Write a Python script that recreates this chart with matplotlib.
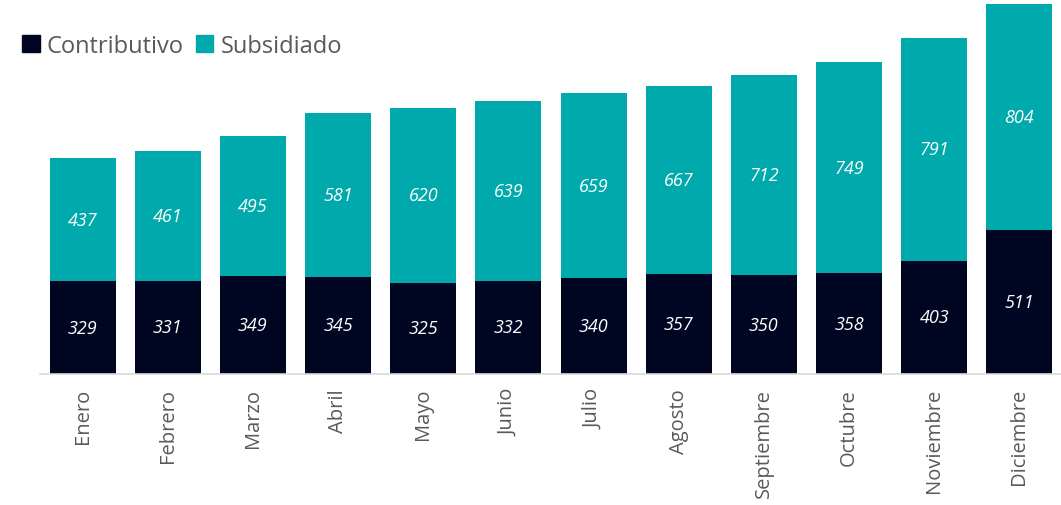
import matplotlib
matplotlib.use("Agg")
import matplotlib.pyplot as plt
from matplotlib.patches import Patch

meses = ["Enero", "Febrero", "Marzo", "Abril", "Mayo", "Junio", "Julio",
         "Agosto", "Septiembre", "Octubre", "Noviembre", "Diciembre"]
contributivo = [329, 331, 349, 345, 325, 332, 340, 357, 350, 358, 403, 511]
subsidiado = [437, 461, 495, 581, 620, 639, 659, 667, 712, 749, 791, 804]

c_contrib = "#000522"
c_subs = "#00A9AB"
gris = "#595959"

plt.rcParams["font.family"] = ["Open Sans", "DejaVu Sans"]

fig = plt.figure(figsize=(10.61, 5.06), dpi=100)
ax = fig.add_axes([40 / 1061, 131 / 506, 1022 / 1061, 371 / 506])

x = list(range(len(meses)))
w = 0.775
ax.bar(x, contributivo, width=w, color=c_contrib)
ax.bar(x, subsidiado, width=w, bottom=contributivo, color=c_subs)

for i in x:
    ax.text(i, contributivo[i] / 2, str(contributivo[i]), ha="center", va="center",
            color="white", fontsize=13, style="italic")
    ax.text(i, contributivo[i] + subsidiado[i] / 2, str(subsidiado[i]), ha="center",
            va="center", color="white", fontsize=13, style="italic")

ax.set_xlim(-0.5, len(meses) - 0.5)
ax.set_ylim(0, 1318)
ax.set_xticks(x)
ax.set_xticklabels(meses, rotation=90, fontsize=14.5, color=gris)
ax.tick_params(axis="x", length=0, pad=10)
ax.set_yticks([])
for s in ["top", "right", "left"]:
    ax.spines[s].set_visible(False)
ax.spines["bottom"].set_color("#d9d9d9")
ax.spines["bottom"].set_linewidth(1.2)

handles = [Patch(color=c_contrib, label="Contributivo"),
           Patch(color=c_subs, label="Subsidiado")]
fig.legend(handles=handles, loc="upper left", bbox_to_anchor=(22 / 1061, 1 - 35 / 506),
           ncol=2, frameon=False, fontsize=17, labelcolor=gris,
           handlelength=0.75, handleheight=0.75, handletextpad=0.3, columnspacing=0.5,
           borderaxespad=0, borderpad=0)

fig.savefig("out.png", dpi=100)
